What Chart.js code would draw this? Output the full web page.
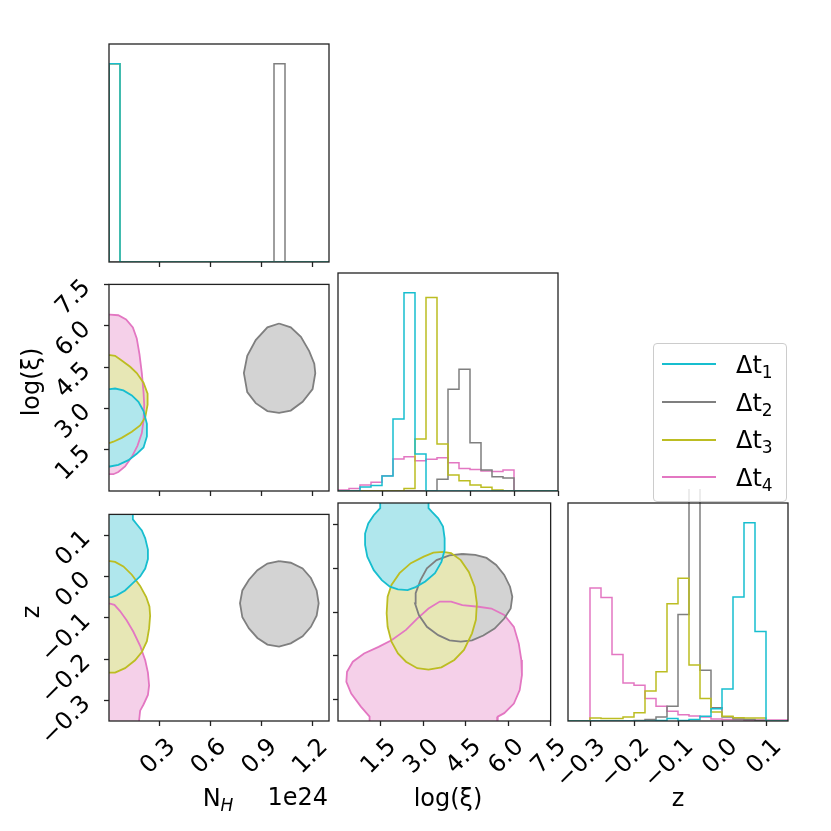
<!DOCTYPE html>
<html>
<head>
<meta charset="utf-8">
<script src="https://cdn.jsdelivr.net/npm/chart.js@4"></script>
<style>
body { margin: 0; background: #fff; }
#fig { position: relative; width: 831px; height: 831px; overflow: hidden; font-family: 'DejaVu Sans'; color: #000; }
#fig canvas { position: absolute; }
.lab { position: absolute; font-size: 24px; line-height: 24px; white-space: nowrap; }
.sub { font-size: 17px; vertical-align: -5px; }
#legend { position: absolute; left: 653px; top: 343px; width: 134px; height: 159px; box-sizing: border-box;
  border: 1px solid #cccccc; border-radius: 4px; background: rgba(255,255,255,0.8); z-index: 5; }
</style>
</head>
<body>
<div id="fig"></div>
<script>
// series: Δt1 .. Δt4
const seriesNames = ["1", "2", "3", "4"]
const lineColors = ["#17becf", "#7f7f7f", "#bcbd22", "#e377c2"]
const fillColors = ["#b0e7ed", "#d3d3d3", "#e7e7b5", "#f5d0e9"]

// axis ranges and ticks
const nhRange = [0, 1.3]
const lxRange = [0, 7.5]
const zRange = [-0.35, 0.15]
const histRange = [0, 1.1]
const nhTicks = [0.3, 0.6, 0.9, 1.2]
const lxTicks = [1.5, 3.0, 4.5, 6.0, 7.5]
const zTicks = [-0.3, -0.2, -0.1, 0.0, 0.1]

// histogram bin edges
const nhEdges = [0, 0.065, 0.13, 0.195, 0.26, 0.325, 0.39, 0.455, 0.52, 0.585, 0.65, 0.715, 0.78, 0.845, 0.91, 0.975, 1.04, 1.105, 1.17, 1.235, 1.3]
const lxEdges = [0, 0.375, 0.75, 1.125, 1.5, 1.875, 2.25, 2.625, 3.0, 3.375, 3.75, 4.125, 4.5, 4.875, 5.25, 5.625, 6.0, 6.375, 6.75, 7.125, 7.5]
const zEdges = [-0.35, -0.325, -0.3, -0.275, -0.25, -0.225, -0.2, -0.175, -0.15, -0.125, -0.1, -0.075, -0.05, -0.025, 0, 0.025, 0.05, 0.075, 0.1, 0.125, 0.15]

// N_H histograms (1e24)
const nhHistT1 = [1, 0, 0, 0, 0, 0, 0, 0, 0, 0, 0, 0, 0, 0, 0, 0, 0, 0, 0, 0]
const nhHistT2 = [0, 0, 0, 0, 0, 0, 0, 0, 0, 0, 0, 0, 0, 0, 0, 1, 0, 0, 0, 0]
const nhHistT3 = [1, 0, 0, 0, 0, 0, 0, 0, 0, 0, 0, 0, 0, 0, 0, 0, 0, 0, 0, 0]
const nhHistT4 = [1, 0, 0, 0, 0, 0, 0, 0, 0, 0, 0, 0, 0, 0, 0, 0, 0, 0, 0, 0]

// log(xi) histograms
const lxHistT1 = [0, 0, 0.02, 0.028, 0.076, 0.363, 1.0, 0.187, 0, 0, 0, 0, 0, 0, 0, 0, 0, 0, 0, 0]
const lxHistT2 = [0, 0, 0, 0, 0, 0, 0, 0, 0, 0.059, 0.513, 0.614, 0.244, 0.106, 0.072, 0.066, 0, 0, 0, 0]
const lxHistT3 = [0, 0, 0, 0, 0, 0, 0.013, 0.262, 0.976, 0.237, 0.081, 0.052, 0.030, 0.019, 0.005, 0, 0, 0, 0, 0]
const lxHistT4 = [0.005, 0.013, 0.030, 0.044, 0.077, 0.161, 0.173, 0.153, 0.160, 0.168, 0.143, 0.114, 0.109, 0.101, 0.098, 0.106, 0, 0, 0, 0]

// z histograms
const zHistT1 = [0, 0, 0, 0, 0, 0, 0, 0, 0.003, 0.012, 0.003, 0.007, 0.024, 0.062, 0.162, 0.626, 1.0, 0.452, 0, 0]
const zHistT2 = [0, 0, 0, 0, 0, 0, 0.003, 0.007, 0.020, 0.074, 0.538, 1.3, 0.256, 0.067, 0.020, 0.010, 0.007, 0.003, 0, 0]
const zHistT3 = [0, 0, 0.015, 0.012, 0.012, 0.020, 0.042, 0.152, 0.248, 0.592, 0.720, 0.282, 0.113, 0.046, 0.024, 0.017, 0.015, 0.015, 0, 0]
const zHistT4 = [0, 0, 0.671, 0.623, 0.336, 0.192, 0.181, 0.113, 0.074, 0.049, 0.032, 0.025, 0.020, 0.010, 0.007, 0.007, 0.005, 0.005, 0.005, 0.005]

// contours: log(xi) vs N_H
const nhLxT1 = [[-0.05, 3.70], [0.006, 3.70], [0.036, 3.72], [0.085, 3.65], [0.135, 3.47], [0.174, 3.24], [0.204, 2.90], [0.224, 2.44], [0.224, 1.98], [0.204, 1.58], [0.164, 1.35], [0.115, 1.12], [0.055, 0.95], [0.006, 0.89], [-0.05, 0.89]]
const nhLxT2 = [[1.005, 6.08], [1.074, 5.94], [1.134, 5.60], [1.183, 5.08], [1.213, 4.62], [1.219, 4.28], [1.203, 3.70], [1.144, 3.24], [1.074, 2.92], [1.005, 2.84], [0.936, 2.90], [0.867, 3.19], [0.817, 3.59], [0.797, 4.28], [0.817, 4.91], [0.867, 5.48], [0.936, 5.94]]
const nhLxT3 = [[-0.05, 4.93], [0.006, 4.93], [0.036, 4.91], [0.075, 4.74], [0.125, 4.51], [0.164, 4.28], [0.204, 3.93], [0.228, 3.53], [0.228, 3.13], [0.214, 2.67], [0.184, 2.38], [0.135, 2.15], [0.075, 1.93], [0.026, 1.79], [0.006, 1.75], [-0.05, 1.75]]
const nhLxT4 = [[-0.05, 6.40], [0.006, 6.40], [0.055, 6.38], [0.101, 6.23], [0.141, 5.94], [0.164, 5.54], [0.180, 4.97], [0.194, 4.28], [0.204, 3.59], [0.208, 3.13], [0.204, 2.56], [0.194, 2.10], [0.168, 1.64], [0.135, 1.24], [0.095, 0.89], [0.055, 0.69], [0.026, 0.61], [0.006, 0.61], [-0.05, 0.61]]

// contours: z vs N_H
const nhZT1 = [[-0.05, 0.2], [0.141, 0.2], [0.141, 0.138], [0.164, 0.126], [0.194, 0.111], [0.214, 0.092], [0.230, 0.065], [0.230, 0.042], [0.214, 0.019], [0.184, 0.000], [0.144, -0.015], [0.095, -0.034], [0.046, -0.046], [0.016, -0.050], [-0.05, -0.050]]
const nhZT2 = [[1.005, 0.037], [1.074, 0.033], [1.144, 0.019], [1.193, -0.004], [1.227, -0.034], [1.239, -0.065], [1.227, -0.095], [1.193, -0.122], [1.144, -0.145], [1.074, -0.162], [1.005, -0.170], [0.936, -0.165], [0.877, -0.149], [0.827, -0.126], [0.788, -0.099], [0.774, -0.065], [0.788, -0.034], [0.827, -0.008], [0.877, 0.015], [0.936, 0.031]]
const nhZT3 = [[-0.05, 0.037], [0.006, 0.037], [0.036, 0.035], [0.085, 0.024], [0.135, 0.004], [0.184, -0.023], [0.220, -0.050], [0.239, -0.073], [0.243, -0.095], [0.237, -0.126], [0.224, -0.157], [0.194, -0.183], [0.154, -0.203], [0.095, -0.222], [0.036, -0.233], [0.006, -0.233], [-0.05, -0.233]]
const nhZT4 = [[-0.05, -0.066], [0.006, -0.066], [0.032, -0.069], [0.065, -0.084], [0.105, -0.107], [0.144, -0.134], [0.184, -0.168], [0.214, -0.203], [0.230, -0.233], [0.237, -0.264], [0.230, -0.287], [0.204, -0.310], [0.184, -0.325], [0.178, -0.348], [0.178, -0.4], [-0.05, -0.4]]

// contours: z vs log(xi)
const lxZT1 = [[1.489, 0.2], [1.489, 0.138], [1.261, 0.122], [1.068, 0.103], [0.955, 0.080], [0.955, 0.054], [1.034, 0.027], [1.261, -0.004], [1.545, -0.027], [1.830, -0.042], [2.114, -0.048], [2.454, -0.050], [2.739, -0.043], [3.079, -0.030], [3.420, -0.011], [3.648, 0.015], [3.761, 0.042], [3.761, 0.069], [3.704, 0.096], [3.534, 0.115], [3.307, 0.130], [3.193, 0.138], [3.193, 0.2]]
const lxZT2 = [[4.386, 0.033], [4.841, 0.031], [5.239, 0.024], [5.579, 0.008], [5.863, -0.015], [6.068, -0.042], [6.148, -0.065], [6.091, -0.092], [5.863, -0.115], [5.523, -0.138], [5.125, -0.154], [4.727, -0.165], [4.329, -0.168], [3.932, -0.165], [3.534, -0.153], [3.136, -0.134], [2.852, -0.107], [2.716, -0.080], [2.739, -0.057], [2.909, -0.027], [3.136, 0.000], [3.477, 0.019], [3.932, 0.030]]
const lxZT3 = [[3.704, 0.038], [3.989, 0.035], [4.329, 0.019], [4.614, -0.008], [4.818, -0.042], [4.898, -0.080], [4.864, -0.118], [4.727, -0.149], [4.443, -0.187], [4.102, -0.210], [3.648, -0.227], [3.193, -0.232], [2.795, -0.229], [2.398, -0.214], [2.114, -0.195], [1.886, -0.168], [1.750, -0.134], [1.716, -0.103], [1.750, -0.065], [1.886, -0.038], [2.170, -0.011], [2.568, 0.012], [3.023, 0.027], [3.364, 0.036]]
const lxZT4 = [[1.114, -0.4], [1.114, -0.340], [0.807, -0.317], [0.466, -0.287], [0.295, -0.260], [0.318, -0.237], [0.523, -0.214], [0.920, -0.195], [1.432, -0.180], [1.886, -0.165], [2.398, -0.141], [2.795, -0.115], [3.193, -0.092], [3.591, -0.076], [3.989, -0.076], [4.386, -0.084], [4.954, -0.088], [5.409, -0.092], [5.863, -0.107], [6.204, -0.134], [6.375, -0.172], [6.466, -0.210], [6.488, -0.245], [6.409, -0.279], [6.204, -0.310], [5.863, -0.332], [5.636, -0.340], [5.614, -0.4]]

// layout
const L = 100, R = 20, T = 20, B = 100, PW = 220, PH = 218
const colX = [109, 338, 568]
const rowY = [44, 273, 503]
const drawOrder = [0, 2, 1, 3]   // cyan on top, pink at the bottom
const FONT = "DejaVu Sans"
const fig = document.getElementById("fig")

Chart.defaults.font.family = FONT

const fmt = (v) => (v < 0 ? "\u2212" : "") + Math.abs(v).toFixed(1)

function steps(edges, vals) {
  const pts = [{ x: edges[0], y: 0 }]
  vals.forEach((v, i) => {
    pts.push({ x: edges[i], y: v }, { x: edges[i + 1], y: v })
  })
  pts.push({ x: edges[edges.length - 1], y: 0 })
  return pts
}

function closed(shape) {
  return shape.concat([shape[0]]).map(([x, y]) => ({ x, y }))
}

function contourSets(shapes) {
  return drawOrder.map((i) => ({
    data: closed(shapes[i]),
    fill: "shape",
    borderColor: lineColors[i],
    backgroundColor: fillColors[i],
    borderWidth: 1.8,
    pointRadius: 0,
  }))
}

function histSets(edges, hists, overflow) {
  return drawOrder.map((i) => ({
    data: steps(edges, hists[i]),
    fill: false,
    borderColor: lineColors[i],
    borderWidth: 1.5,
    pointRadius: 0,
    clip: { left: 0, top: overflow, right: 0, bottom: 0 },
  }))
}

function axis(range, tickVals, labels, horizontal) {
  return {
    type: "linear",
    min: range[0],
    max: range[1],
    afterBuildTicks: (s) => { s.ticks = tickVals.map((v) => ({ value: v })) },
    afterFit: (s) => { if (horizontal) s.height = B; else s.width = L },
    border: { display: false },
    grid: {
      display: tickVals.length > 0,
      drawOnChartArea: false,
      drawTicks: true,
      tickLength: 5,
      tickWidth: 1.3,
      tickColor: "#222",
    },
    ticks: {
      display: labels,
      autoSkip: false,
      minRotation: 45,
      maxRotation: 45,
      padding: horizontal ? 7 : 17,
      labelOffset: horizontal ? 12 : 0,
      color: "#000",
      font: { family: FONT, size: 24 },
      callback: fmt,
    },
  }
}

const frame = {
  id: "frame",
  afterDraw(chart) {
    const a = chart.chartArea
    const ctx = chart.ctx
    ctx.save()
    ctx.strokeStyle = "#222"
    ctx.lineWidth = 1.3
    ctx.strokeRect(a.left, a.top, a.right - a.left, a.bottom - a.top)
    ctx.restore()
  },
}

function panel(col, row, datasets, xAxis, yAxis) {
  const c = document.createElement("canvas")
  c.width = L + PW + R
  c.height = T + PH + B
  c.style.left = colX[col] - L + "px"
  c.style.top = rowY[row] - T + "px"
  fig.appendChild(c)
  new Chart(c, {
    type: "line",
    data: { datasets },
    options: {
      responsive: false,
      animation: false,
      devicePixelRatio: 1,
      layout: { padding: { left: 0, top: T, right: R, bottom: 0 } },
      plugins: {
        legend: { display: false },
        tooltip: { enabled: false },
        filler: { drawTime: "beforeDatasetsDraw" },
      },
      elements: { line: { tension: 0 }, point: { radius: 0 } },
      scales: { x: xAxis, y: yAxis },
    },
    plugins: [frame],
  })
}

// row 0
panel(0, 0, histSets(nhEdges, [nhHistT1, nhHistT2, nhHistT3, nhHistT4], 0),
  axis(nhRange, nhTicks, false, true), axis(histRange, [], false, false))
// row 1
panel(0, 1, contourSets([nhLxT1, nhLxT2, nhLxT3, nhLxT4]),
  axis(nhRange, nhTicks, false, true), axis(lxRange, lxTicks, true, false))
panel(1, 1, histSets(lxEdges, [lxHistT1, lxHistT2, lxHistT3, lxHistT4], 0),
  axis(lxRange, lxTicks, false, true), axis(histRange, [], false, false))
// row 2
panel(0, 2, contourSets([nhZT1, nhZT2, nhZT3, nhZT4]),
  axis(nhRange, nhTicks, true, true), axis(zRange, zTicks, true, false))
panel(1, 2, contourSets([lxZT1, lxZT2, lxZT3, lxZT4]),
  axis(lxRange, lxTicks, true, true), axis(zRange, zTicks, false, false))
panel(2, 2, histSets(zEdges, [zHistT1, zHistT2, zHistT3, zHistT4], 14),
  axis(zRange, zTicks, true, true), axis(histRange, [], false, false))

// axis labels
function label(html, x, y, rotate, anchor) {
  const d = document.createElement("div")
  d.className = "lab"
  d.innerHTML = html
  d.style.left = x + "px"
  d.style.top = y + "px"
  d.style.transform = rotate ? "translate(-50%,-50%) rotate(-90deg)" : "translate(" + anchor + ",0)"
  fig.appendChild(d)
}
label("log(ξ)", 31, 382, true)
label("z", 31, 612, true)
label('N<span class="sub" style="font-style:italic">H</span>', 218, 786, false, "-50%")
label("log(ξ)", 448, 786, false, "-50%")
label("z", 678, 786, false, "-50%")
label("1e24", 328, 785, false, "-100%")

// legend
const leg = document.createElement("div")
leg.id = "legend"
fig.appendChild(leg)
seriesNames.forEach((n, i) => {
  const cy = 20.3 + 37.7 * i
  const ln = document.createElement("div")
  ln.style.cssText = "position:absolute;left:8px;width:54px;height:2px;top:" + (cy - 1) + "px;background:" + lineColors[i]
  leg.appendChild(ln)
  const tx = document.createElement("div")
  tx.className = "lab"
  tx.style.left = "82px"
  tx.style.top = cy - 11.3 + "px"
  tx.innerHTML = 'Δt<span class="sub">' + n + "</span>"
  leg.appendChild(tx)
})
</script>
</body>
</html>
